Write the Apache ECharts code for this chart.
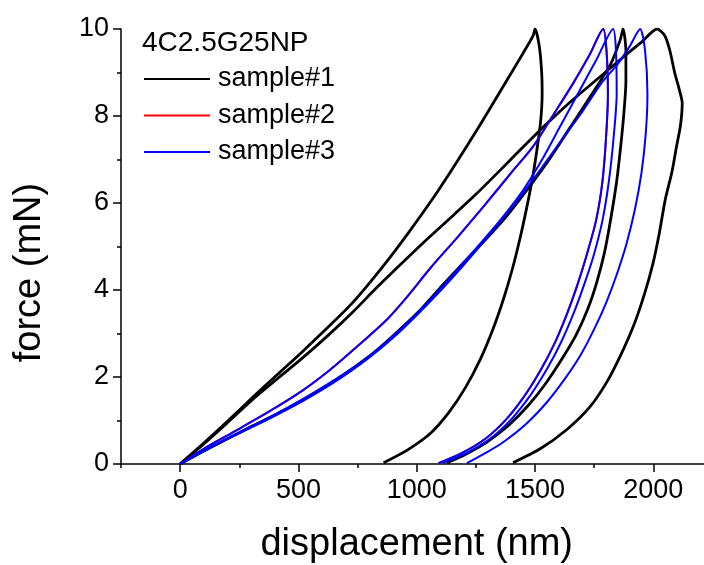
<!DOCTYPE html>
<html>
<head>
<meta charset="utf-8">
<script src="https://cdn.jsdelivr.net/npm/echarts@6/dist/echarts.min.js"></script>
<style>
html,body{margin:0;padding:0;background:#fff;}
#chart{width:704px;height:565px;}
</style>
</head>
<body>
<div id="chart"></div>
<script>
// ---- tick labels ----
const xMajorTicks = [0, 500, 1000, 1500, 2000];
const xMinorTicks = [-250, 250, 750, 1250, 1750];
const yMajorTicks = [0, 2, 4, 6, 8, 10];

const legendTitle = '4C2.5G25NP';
const seriesNames = ['sample#1', 'sample#2', 'sample#3'];

// ---- sample#1 (black): three load/unload loops, [displacement nm, force mN] ----
const s1LoopA = [[0,0],[100,0.48],[200,0.98],[310,1.55],[420,2.1],[520,2.6],[630,3.17],[731,3.72],[858,4.55],[960,5.28],[1070,6.12],[1170,6.95],[1268,7.8],[1381,8.82],[1450,9.45],[1492,9.85],[1500,10],[1518,9.6],[1528,9.0],[1530,8.5],[1524,7.9],[1510,7.3],[1490,6.6],[1465,5.9],[1437,5.2],[1405,4.5],[1367,3.8],[1322,3.1],[1268,2.4],[1205,1.75],[1135,1.18],[1057,0.7],[960,0.32],[860,0.03]];
const s1LoopB = [[0,0],[100,0.46],[200,0.95],[310,1.5],[420,2.0],[520,2.45],[630,2.98],[731,3.5],[830,4.05],[930,4.58],[1030,5.1],[1141,5.65],[1250,6.2],[1352,6.75],[1424,7.15],[1492,7.52],[1580,7.98],[1661,8.38],[1770,8.88],[1872,9.35],[1950,9.7],[2016,10],[2048,9.85],[2070,9.5],[2090,9.0],[2110,8.6],[2122,8.3],[2115,7.8],[2098,7.3],[2078,6.7],[2050,6.07],[2025,5.3],[1998,4.6],[1962,3.9],[1918,3.2],[1866,2.55],[1805,1.9],[1730,1.3],[1636,0.8],[1522,0.35],[1407,0.03]];
const s1LoopC = [[0,0],[100,0.3],[200,0.58],[300,0.86],[408,1.15],[520,1.48],[663,1.95],[800,2.48],[900,2.95],[1002,3.47],[1099,4.05],[1190,4.58],[1281,5.1],[1380,5.7],[1466,6.3],[1560,7.0],[1650,7.75],[1740,8.5],[1820,9.2],[1860,9.75],[1872,10],[1884,9.5],[1884,8.8],[1876,8.1],[1862,7.3],[1845,6.5],[1822,5.7],[1795,4.9],[1762,4.2],[1722,3.55],[1672,2.95],[1612,2.4],[1545,1.85],[1472,1.35],[1390,0.9],[1295,0.5],[1205,0.22],[1128,0.03]];

// ---- sample#3 (blue): three load/unload loops ----
const s3Loop1 = [[0,0],[100,0.35],[240,0.78],[380,1.22],[520,1.7],[630,2.15],[731,2.62],[870,3.3],[960,3.85],[1057,4.5],[1170,5.2],[1281,5.91],[1400,6.7],[1492,7.3],[1580,8.05],[1661,8.75],[1730,9.4],[1788,10],[1802,9.5],[1808,8.5],[1800,7.5],[1785,6.5],[1758,5.6],[1718,4.8],[1678,4.1],[1635,3.45],[1585,2.8],[1528,2.2],[1460,1.6],[1382,1.05],[1290,0.58],[1190,0.25],[1092,0.02]];
const s3Loop2 = [[0,0],[100,0.31],[240,0.7],[380,1.08],[520,1.5],[660,1.96],[775,2.38],[870,2.8],[990,3.4],[1070,3.85],[1141,4.28],[1250,4.95],[1352,5.6],[1450,6.3],[1530,7.0],[1600,7.7],[1680,8.5],[1760,9.3],[1830,10],[1842,9.5],[1845,8.5],[1832,7.5],[1812,6.5],[1785,5.6],[1748,4.8],[1706,4.1],[1662,3.45],[1610,2.8],[1552,2.2],[1483,1.6],[1403,1.05],[1310,0.58],[1210,0.25],[1110,0.02]];
const s3Loop3 = [[0,0],[100,0.3],[240,0.68],[380,1.05],[520,1.45],[663,1.92],[800,2.45],[900,2.9],[1000,3.42],[1100,3.98],[1190,4.52],[1281,5.1],[1380,5.75],[1466,6.35],[1540,6.9],[1606,7.4],[1700,8.1],[1780,8.75],[1850,9.2],[1900,9.6],[1944,10],[1965,9.5],[1975,8.5],[1968,7.6],[1950,6.7],[1922,5.85],[1886,5.05],[1845,4.35],[1800,3.7],[1750,3.1],[1692,2.5],[1625,1.95],[1550,1.42],[1462,0.92],[1365,0.5],[1290,0.25],[1212,0.02]];

// ---- sample#2 (red): lies underneath the blue curves, only a faint tint is visible ----
const s2Loop1 = [[0,0],[100,0.35],[240,0.78],[380,1.22],[520,1.7],[630,2.15],[731,2.62],[870,3.3],[960,3.85],[1057,4.5],[1170,5.2],[1281,5.91],[1400,6.7],[1492,7.3],[1580,8.05],[1661,8.75],[1730,9.4],[1788,10],[1802,9.5],[1808,8.5],[1800,7.5],[1785,6.5],[1758,5.6],[1718,4.8],[1678,4.1],[1635,3.45],[1585,2.8],[1528,2.2],[1460,1.6],[1382,1.05],[1290,0.58],[1190,0.25],[1092,0.02]];

const sample1Loops = [s1LoopA, s1LoopB, s1LoopC];
const sample2Loops = [s2Loop1];
const sample3Loops = [s3Loop1, s3Loop2, s3Loop3];

const FONT = '"Liberation Sans", Arial, Helvetica, sans-serif';
const chart = echarts.init(document.getElementById('chart'), null, {renderer: 'canvas'});

function loopSeries(name, color, width, loops, z) {
  return loops.map(d => ({
    name: name, type: 'line', data: d, showSymbol: false, symbol: 'none',
    smooth: 0.25,
    lineStyle: {color: color, width: width}, itemStyle: {color: color},
    animation: false, z: z, silent: true
  }));
}

const series = [].concat(
  loopSeries(seriesNames[0], '#000000', 2.8, sample1Loops, 2),
  loopSeries(seriesNames[1], '#ff0000', 2, sample2Loops, 3),
  loopSeries(seriesNames[2], '#0000ff', 2, sample3Loops, 4)
);

const axisLineStyle = {color: '#000', width: 1.5};
const labelStyle = {color: '#000', fontSize: 27, fontFamily: FONT};

chart.setOption({
  backgroundColor: '#fff',
  animation: false,
  title: {
    text: legendTitle, left: 142, top: 29, padding: 0,
    textStyle: {color: '#000', fontSize: 28, fontWeight: 'normal', fontFamily: FONT}
  },
  legend: {
    show: true,
    orient: 'vertical', left: 144, top: 65.5, padding: 0,
    itemWidth: 66, itemHeight: 2, itemGap: 9.5,
    icon: 'rect',
    data: seriesNames.map(n => ({name: n, icon: 'rect'})),
    textStyle: {color: '#000', fontSize: 27, fontFamily: FONT, padding: [0, 0, 0, 3]},
    selectedMode: false
  },
  grid: {left: 121, top: 29, width: 591.5, height: 435, containLabel: false, outerBoundsMode: 'none'},
  xAxis: [{
    type: 'value', min: -250, max: 2250,
    name: 'displacement (nm)', nameLocation: 'middle', nameGap: 62,
    nameTextStyle: {color: '#000', fontSize: 38, fontFamily: FONT},
    axisLine: {show: true, onZero: false, lineStyle: axisLineStyle},
    axisTick: {show: true, inside: false, length: 8, customValues: xMajorTicks, lineStyle: axisLineStyle},
    axisLabel: {show: true, customValues: xMajorTicks, margin: 13, formatter: v => String(v), ...labelStyle},
    splitLine: {show: false}
  }, {
    type: 'value', min: -250, max: 2250, position: 'bottom', gridIndex: 0,
    axisLine: {show: false},
    axisTick: {show: true, inside: false, length: 4, customValues: xMinorTicks, lineStyle: axisLineStyle},
    axisLabel: {show: false},
    splitLine: {show: false}
  }],
  yAxis: {
    type: 'value', min: 0, max: 10, interval: 2,
    name: 'force (mN)', nameLocation: 'middle', nameGap: 72, nameRotate: 90,
    nameTextStyle: {color: '#000', fontSize: 38, fontFamily: FONT, padding: [0, 52, 0, 0]},
    axisLine: {show: true, onZero: false, lineStyle: axisLineStyle},
    axisTick: {show: true, inside: false, length: 8, lineStyle: axisLineStyle},
    minorTick: {show: true, splitNumber: 2, length: 4, lineStyle: axisLineStyle},
    axisLabel: {show: true, margin: 12, formatter: v => String(v), ...labelStyle},
    splitLine: {show: false}
  },
  series: series
});
</script>
</body>
</html>
